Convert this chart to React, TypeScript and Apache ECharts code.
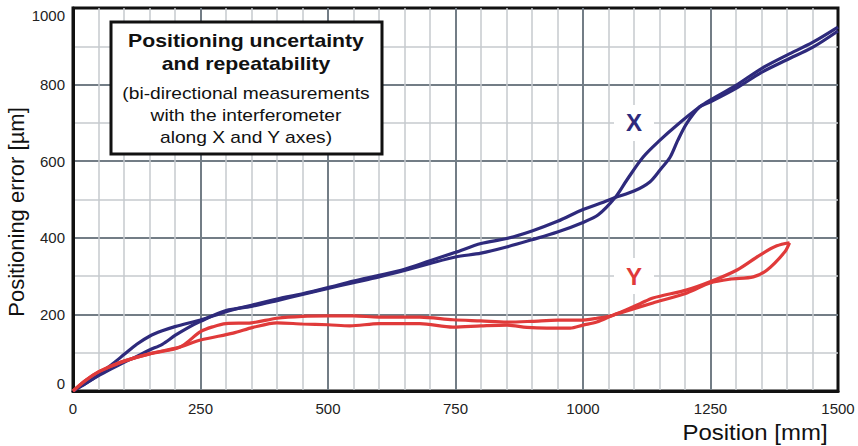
import { useEffect, useRef } from "react";
import * as echarts from "echarts";

// X axis measurement (blue) - outgoing pass
const xOutPos = [0, 25, 50, 75, 100, 125, 150, 175, 200, 225, 250, 300, 350, 400, 450, 500, 550, 600, 650, 700, 750, 800, 850, 900, 950, 1000, 1040, 1063, 1100, 1131, 1151, 1171, 1186, 1204, 1229, 1250, 1300, 1350, 1400, 1450, 1500];
const xOutErr = [0, 20, 42, 68, 95, 122, 143, 157, 168, 177, 185, 207, 224, 240, 254, 270, 287, 302, 318, 340, 362, 385, 398, 418, 443, 474, 493, 505, 522, 546, 577, 611, 655, 700, 742, 755, 790, 832, 865, 897, 940];
// X axis measurement (blue) - return pass
const xBackPos = [1500, 1450, 1400, 1350, 1300, 1250, 1229, 1184, 1151, 1118, 1086, 1063, 1030, 1000, 950, 900, 850, 800, 750, 700, 650, 600, 550, 500, 450, 400, 350, 300, 250, 225, 200, 175, 150, 125, 100, 75, 50, 25, 0];
const xBackErr = [950, 910, 877, 842, 798, 760, 742, 694, 655, 611, 551, 505, 460, 440, 415, 395, 376, 360, 350, 333, 315, 298, 283, 268, 252, 236, 221, 210, 182, 165, 145, 122, 107, 90, 75, 58, 40, 20, 0];

// Y axis measurement (red) - outgoing pass
const yOutPos = [0, 25, 50, 75, 100, 150, 210, 250, 275, 300, 350, 400, 450, 500, 550, 600, 680, 745, 800, 851, 900, 950, 994, 1027, 1059, 1112, 1137, 1204, 1249, 1302, 1347, 1380, 1405];
const yOutErr = [0, 28, 50, 65, 78, 97, 115, 155, 168, 176, 178, 190, 195, 196, 196, 193, 193, 186, 183, 180, 182, 185, 185, 190, 198, 228, 243, 264, 285, 316, 355, 379, 387];
// Y axis measurement (red) - return pass
const yBackPos = [1405, 1395, 1361, 1334, 1288, 1249, 1204, 1137, 1073, 1059, 1027, 1000, 975, 929, 890, 851, 800, 745, 680, 600, 543, 500, 450, 400, 353, 314, 250, 210, 150, 100, 50, 25, 0];
const yBackErr = [387, 362, 316, 298, 292, 282, 256, 230, 204, 198, 180, 172, 164, 164, 166, 172, 170, 167, 176, 176, 170, 173, 175, 178, 166, 151, 133, 115, 97, 78, 50, 28, 0];

const xTicks = [0, 250, 500, 750, 1000, 1250, 1500];
const yTicks = [0, 200, 400, 600, 800, 1000];

const xLabelCoord = [1100, 700];
const yLabelCoord = [1100, 300];

const BLUE = "#2e2a7c";
const RED = "#e03a3a";
const FONT = "'Liberation Sans', Arial, sans-serif";

const zip = (a: number[], b: number[]) => a.map((v, i) => [v, b[i]]);

export default function App() {
  const ref = useRef<HTMLDivElement>(null);
  useEffect(() => {
    const chart = echarts.init(ref.current!, null, { renderer: "svg" });
    const lineBase = {
      type: "line",
      showSymbol: false,
      smooth: 0.3,
      silent: true,
    };
    const label = (text: string, color: string, coord: number[]) => ({
      silent: true,
      symbol: "rect",
      symbolSize: [40, 36],
      itemStyle: { color: "#ffffff" },
      label: {
        show: true,
        position: "inside",
        formatter: text,
        color,
        fontSize: 24,
        fontWeight: "bold",
        fontFamily: FONT,
      },
      data: [{ coord }],
    });
    chart.setOption({
      animation: false,
      textStyle: { fontFamily: FONT },
      grid: {
        left: 73,
        right: 20,
        top: 8,
        bottom: 55,
        show: true,
        borderColor: "#111",
        borderWidth: 3,
        backgroundColor: "#fff",
      },
      xAxis: {
        type: "value",
        min: xTicks[0],
        max: xTicks[xTicks.length - 1],
        interval: xTicks[1] - xTicks[0],
        axisLine: { show: true, lineStyle: { color: "#111", width: 3 } },
        axisTick: { show: false },
        axisLabel: { color: "#222", fontSize: 15, margin: 10, fontFamily: FONT, formatter: (v: number) => String(v) },
        splitLine: { show: true, showMinLine: false, showMaxLine: false, lineStyle: { color: "#737d86", width: 2 } },
        minorTick: { show: false, splitNumber: 5 },
        minorSplitLine: { show: true, lineStyle: { color: "#c6cace", width: 1.5 } },
      },
      yAxis: {
        type: "value",
        min: yTicks[0],
        max: yTicks[yTicks.length - 1],
        interval: yTicks[1] - yTicks[0],
        axisLine: { show: true, lineStyle: { color: "#111", width: 3 } },
        axisTick: { show: false },
        axisLabel: {
          color: "#222",
          fontSize: 15,
          margin: 8,
          fontFamily: FONT,
          formatter: (v: number) => String(v),
          verticalAlignMinLabel: "bottom",
          verticalAlignMaxLabel: "top",
        },
        splitLine: { show: true, showMinLine: false, showMaxLine: false, lineStyle: { color: "#737d86", width: 2 } },
        minorTick: { show: false, splitNumber: 2 },
        minorSplitLine: { show: true, lineStyle: { color: "#c6cace", width: 1.5 } },
      },
      series: [
        { ...lineBase, name: "X out", data: zip(xOutPos, xOutErr), lineStyle: { color: BLUE, width: 3.2 }, itemStyle: { color: BLUE }, markPoint: label("X", BLUE, xLabelCoord) },
        { ...lineBase, name: "X back", data: zip(xBackPos, xBackErr), lineStyle: { color: BLUE, width: 3.2 }, itemStyle: { color: BLUE } },
        { ...lineBase, name: "Y out", data: zip(yOutPos, yOutErr), lineStyle: { color: RED, width: 3.2 }, itemStyle: { color: RED }, markPoint: label("Y", RED, yLabelCoord) },
        { ...lineBase, name: "Y back", data: zip(yBackPos, yBackErr), lineStyle: { color: RED, width: 3.2 }, itemStyle: { color: RED } },
      ],
      graphic: [
        {
          type: "rect",
          z: 50,
          shape: { x: 111, y: 22, width: 271, height: 132 },
          style: { fill: "#fff", stroke: "#111", lineWidth: 3 },
        },
        { type: "text", z: 51, x: 246, y: 41, scaleX: 1.18, style: { text: "Positioning uncertainty", fontSize: 18, fontWeight: "bold", fontFamily: FONT, fill: "#111", textAlign: "center", textVerticalAlign: "middle" } },
        { type: "text", z: 51, x: 246, y: 64, scaleX: 1.18, style: { text: "and repeatability", fontSize: 18, fontWeight: "bold", fontFamily: FONT, fill: "#111", textAlign: "center", textVerticalAlign: "middle" } },
        { type: "text", z: 51, x: 246, y: 94, scaleX: 1.2, style: { text: "(bi-directional measurements", fontSize: 16, fontFamily: FONT, fill: "#111", textAlign: "center", textVerticalAlign: "middle" } },
        { type: "text", z: 51, x: 246, y: 116, scaleX: 1.2, style: { text: "with the interferometer", fontSize: 16, fontFamily: FONT, fill: "#111", textAlign: "center", textVerticalAlign: "middle" } },
        { type: "text", z: 51, x: 246, y: 138, scaleX: 1.2, style: { text: "along X and Y axes)", fontSize: 16, fontFamily: FONT, fill: "#111", textAlign: "center", textVerticalAlign: "middle" } },
        { type: "text", z: 51, x: 16, y: 212, rotation: Math.PI / 2, style: { text: "Positioning error [µm]", fontSize: 22, fontFamily: FONT, fill: "#111", textAlign: "center", textVerticalAlign: "middle" } },
        { type: "text", z: 51, x: 755, y: 432, scaleX: 1.09, style: { text: "Position [mm]", fontSize: 22, fontFamily: FONT, fill: "#111", textAlign: "center", textVerticalAlign: "middle" } },
      ],
    });
    return () => chart.dispose();
  }, []);
  return <div ref={ref} style={{ position: "absolute", left: 0, top: 0, width: 858, height: 446 }} />;
}
